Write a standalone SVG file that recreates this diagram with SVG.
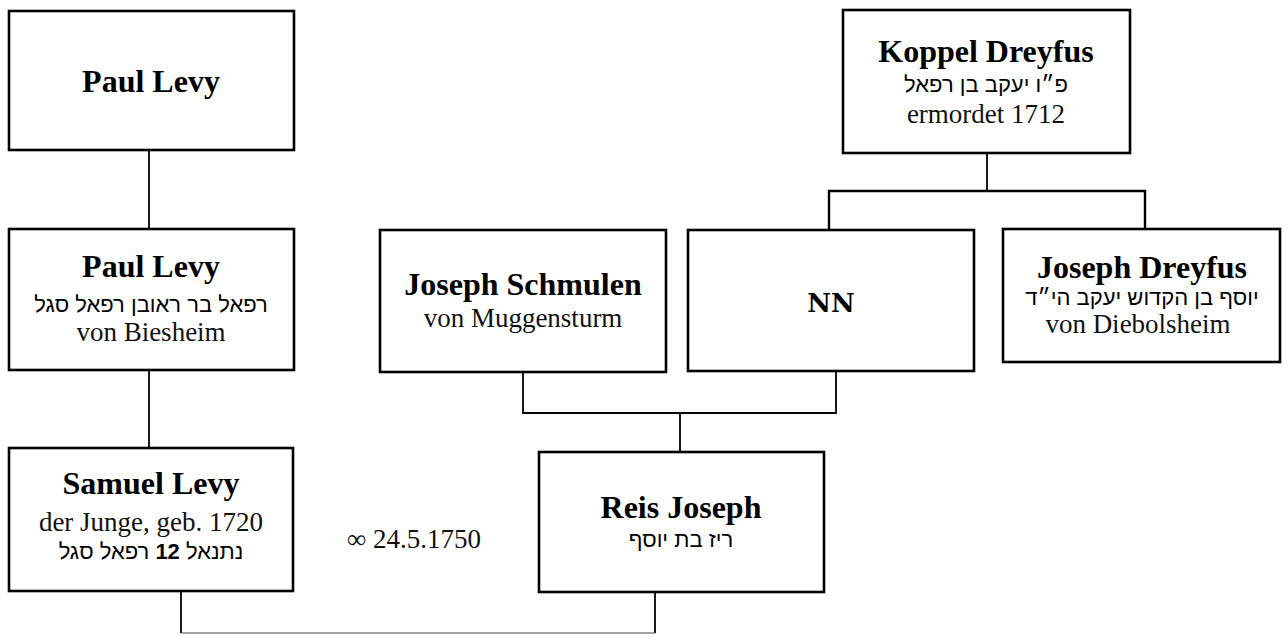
<svg xmlns="http://www.w3.org/2000/svg" width="1288" height="635" viewBox="0 0 1288 635">
<style>
.box{fill:#fff;stroke:#000;stroke-width:2.6}
.t{font-family:"Liberation Serif","Times New Roman",serif;font-weight:bold;font-size:32px;text-anchor:middle;fill:#000}
.r{font-family:"Liberation Serif","Times New Roman",serif;font-size:27px;text-anchor:middle;fill:#111}
.h{font-family:"Liberation Sans","DejaVu Sans",sans-serif;font-size:22px;text-anchor:middle;fill:#000}
.nn{font-family:"DejaVu Serif",serif;font-weight:bold;font-size:26px;text-anchor:middle;fill:#000}
.c{fill:none;stroke:#000;stroke-width:1.8}
.cb{fill:none;stroke:#000;stroke-width:2.4}
.cg{fill:none;stroke:#444;stroke-width:1.2}
</style>
<rect width="1288" height="635" fill="#fff"/>
<g id="connectors">
<line class="c" x1="149" y1="150" x2="149" y2="229"/>
<line class="c" x1="149" y1="370" x2="149" y2="448"/>
<line class="c" x1="987" y1="153" x2="987" y2="191"/>
<path class="cb" d="M829 229 V191 H1145 V229"/>
<path class="c" d="M523 372 V413 H836 V371"/>
<line class="c" x1="680" y1="413" x2="680" y2="452"/>
<line class="c" x1="181" y1="592" x2="181" y2="633"/>
<line class="c" x1="655" y1="592" x2="655" y2="633"/>
<line class="cg" x1="181" y1="633" x2="655" y2="633"/>
</g>
<g id="paul-levy-1">
<rect class="box" x="9" y="11" width="285" height="139"/>
<text class="t" x="151" y="92">Paul Levy</text>
</g>
<g id="paul-levy-2">
<rect class="box" x="9" y="229" width="285" height="141"/>
<text class="t" x="151" y="277">Paul Levy</text>
<text class="h" x="151" y="312">רפאל בר ראובן רפאל סגל</text>
<text class="r" x="151" y="341">von Biesheim</text>
</g>
<g id="samuel-levy">
<rect class="box" x="9" y="448" width="284" height="143"/>
<text class="t" x="151" y="494">Samuel Levy</text>
<text class="r" x="151" y="531">der Junge, geb. 1720</text>
<text class="h" x="151" y="559">נתנאל <tspan font-weight="bold">12</tspan> רפאל סגל</text>
</g>
<g id="marriage">
<text class="r" x="347" y="548" style="text-anchor:start">∞ 24.5.1750</text>
</g>
<g id="koppel-dreyfus">
<rect class="box" x="843" y="10" width="287" height="143"/>
<text class="t" x="986" y="62">Koppel Dreyfus</text>
<text class="h" x="986" y="92">פ״ו יעקב בן רפאל</text>
<text class="r" x="986" y="123">ermordet 1712</text>
</g>
<g id="joseph-schmulen">
<rect class="box" x="380" y="230" width="286" height="142"/>
<text class="t" x="523" y="295">Joseph Schmulen</text>
<text class="r" x="523" y="327">von Muggensturm</text>
</g>
<g id="nn">
<rect class="box" x="688" y="230" width="286" height="141"/>
<text class="nn" x="831" y="312">NN</text>
</g>
<g id="joseph-dreyfus">
<rect class="box" x="1003" y="229" width="277" height="133"/>
<text class="t" x="1142" y="278">Joseph Dreyfus</text>
<text class="h" x="1142" y="305">יוסף בן הקדוש יעקב הי״ד</text>
<text class="r" x="1138" y="333">von Diebolsheim</text>
</g>
<g id="reis-joseph">
<rect class="box" x="539" y="452" width="285" height="140"/>
<text class="t" x="681" y="518">Reis Joseph</text>
<text class="h" x="681" y="547">ריז בת יוסף</text>
</g>
</svg>
